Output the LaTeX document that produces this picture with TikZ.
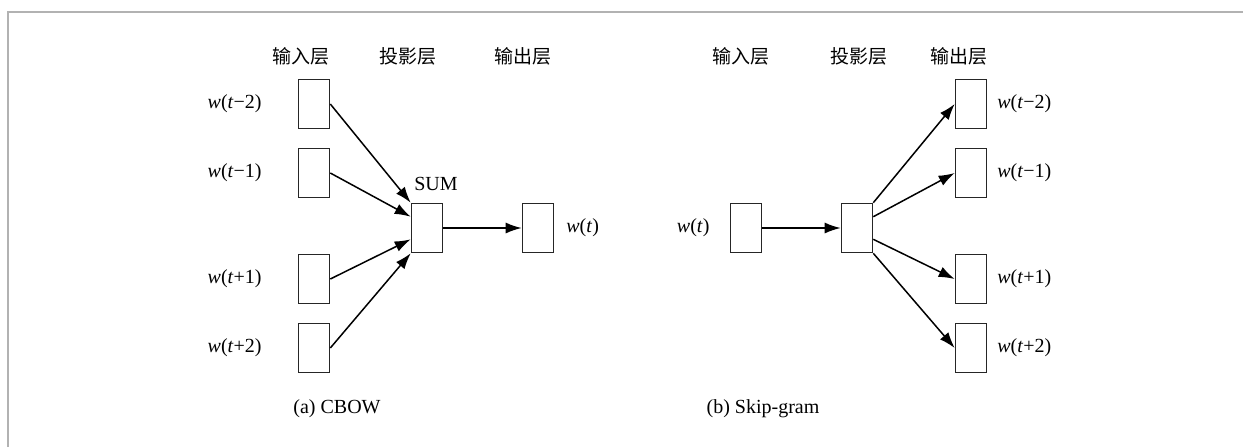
\documentclass[tikz,border=0pt]{standalone}
\usepackage{fontspec}
\setmainfont{Liberation Serif}
\newfontfamily\cjk{Noto Sans CJK SC}
\usetikzlibrary{arrows.meta}
\begin{document}
\begin{tikzpicture}[x=0.5pt,y=-0.5pt,
  wbox/.style={draw=black!85,line width=0.8pt,minimum width=15.5pt,minimum height=24.5pt,inner sep=0pt},
  hdr/.style={font=\cjk\fontsize{9.5}{11}\selectfont,inner sep=0pt},
  lbl/.style={font=\fontsize{10}{12}\selectfont,inner sep=0pt},
  arr/.style={-{Latex[length=8pt,width=5.5pt]},line width=0.75pt},
  frameline/.style={draw=black!30,line width=1.2pt}]
\useasboundingbox (0,0) rectangle (1243,447);
\draw[frameline] (8,447) -- (8,12) -- (1243,12);
% ---------- (a) CBOW ----------
\node[hdr] (ha1) at (301,56) {输入层};
\node[hdr] (ha2) at (408,56) {投影层};
\node[hdr] (ha3) at (523,56) {输出层};
\node[wbox] (a1) at (314,104) {};
\node[wbox] (a2) at (314,173) {};
\node[wbox] (a3) at (314,279) {};
\node[wbox] (a4) at (314,348) {};
\node[wbox] (asum) at (427,228) {};
\node[wbox] (aout) at (538,228) {};
\node[lbl,anchor=east] (la1) at (262,104) {\textit{w}(\textit{t}−2)};
\node[lbl,anchor=east] (la2) at (262,173) {\textit{w}(\textit{t}−1)};
\node[lbl,anchor=east] (la3) at (262,279) {\textit{w}(\textit{t}+1)};
\node[lbl,anchor=east] (la4) at (262,348) {\textit{w}(\textit{t}+2)};
\node[lbl] (lsum) at (436,184) {SUM};
\node[lbl,anchor=west] (laout) at (566,228) {\textit{w}(\textit{t})};
\node[lbl] (capa) at (337,409) {(a) CBOW};
\draw[arr] (a1.east) -- ([yshift=0pt]asum.north west);
\draw[arr] (a2.east) -- ([yshift=-7pt]asum.north west);
\draw[arr] (a3.east) -- ([yshift=7pt]asum.south west);
\draw[arr] (a4.east) -- (asum.south west);
\draw[arr] (asum.east) -- (aout.west);
% ---------- (b) Skip-gram ----------
\node[hdr] (hb1) at (741,56) {输入层};
\node[hdr] (hb2) at (859,56) {投影层};
\node[hdr] (hb3) at (959,56) {输出层};
\node[wbox] (bin) at (746,228) {};
\node[wbox] (bproj) at (857,228) {};
\node[wbox] (b1) at (971,104) {};
\node[wbox] (b2) at (971,173) {};
\node[wbox] (b3) at (971,279) {};
\node[wbox] (b4) at (971,348) {};
\node[lbl,anchor=east] (lbin) at (710,228) {\textit{w}(\textit{t})};
\node[lbl,anchor=west] (lb1) at (997,104) {\textit{w}(\textit{t}−2)};
\node[lbl,anchor=west] (lb2) at (997,173) {\textit{w}(\textit{t}−1)};
\node[lbl,anchor=west] (lb3) at (997,279) {\textit{w}(\textit{t}+1)};
\node[lbl,anchor=west] (lb4) at (997,348) {\textit{w}(\textit{t}+2)};
\node[lbl] (capb) at (763,409) {(b) Skip-gram};
\draw[arr] (bin.east) -- (bproj.west);
\draw[arr] (bproj.north east) -- (b1.west);
\draw[arr] ([yshift=-7pt]bproj.north east) -- (b2.west);
\draw[arr] ([yshift=7pt]bproj.south east) -- (b3.west);
\draw[arr] (bproj.south east) -- (b4.west);
\end{tikzpicture}
\end{document}
